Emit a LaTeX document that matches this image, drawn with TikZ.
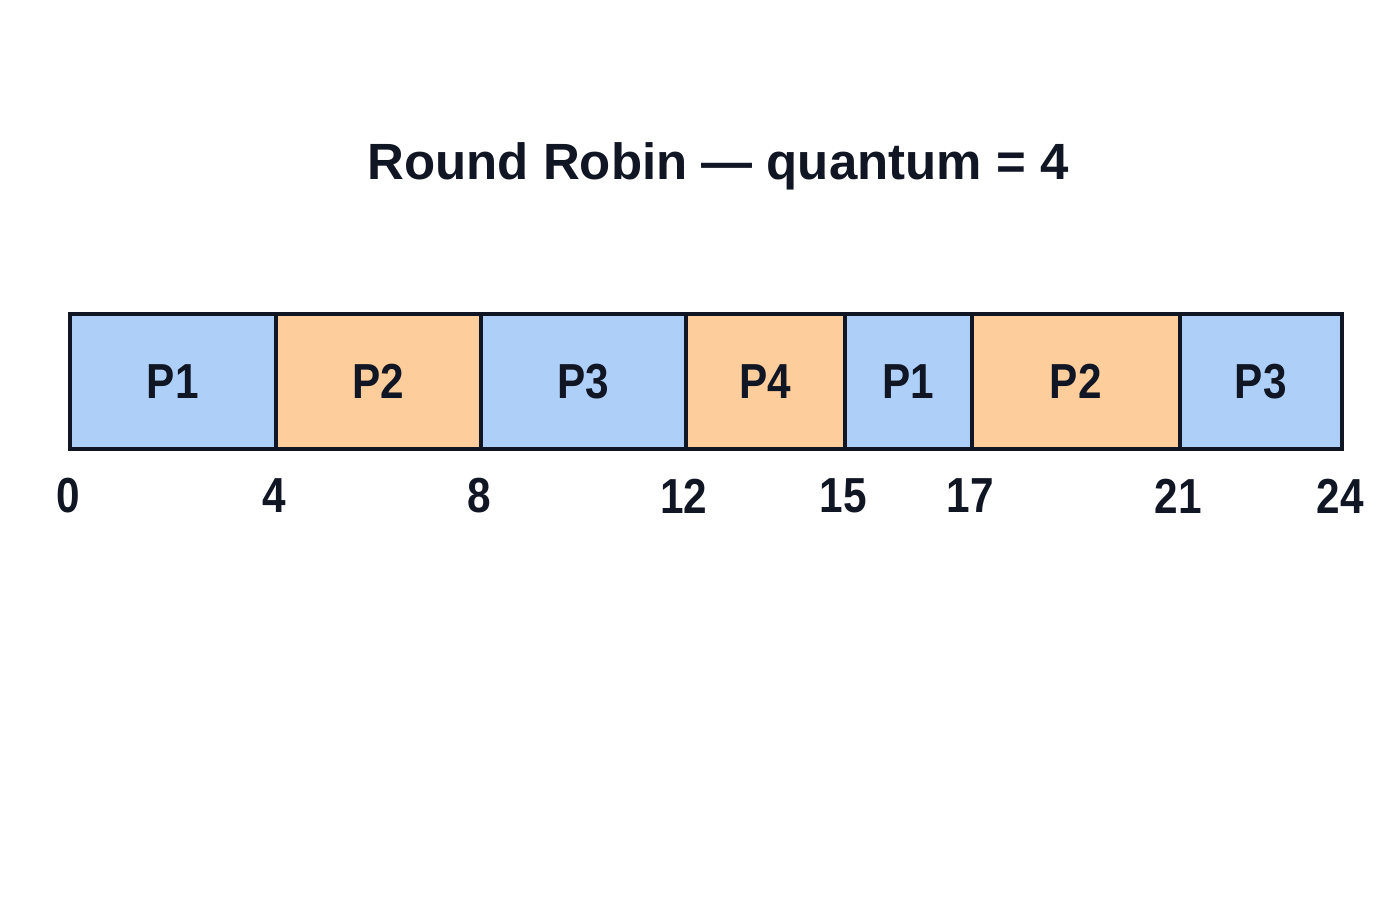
\documentclass[tikz,border=0pt]{standalone}
\usepackage{fontspec}
\setmainfont{Liberation Sans}
\newfontfamily\narrowbold[FakeStretch=0.86]{Liberation Sans Bold}
\usetikzlibrary{positioning}

\definecolor{slotblue}{RGB}{174,208,248}
\definecolor{slotorange}{RGB}{253,205,155}
\definecolor{inkdark}{RGB}{17,22,36}

\tikzset{
    slot/.style={draw=inkdark, line width=1pt, anchor=south west,
        minimum height=1.35cm, inner sep=0pt, text=inkdark,
        font=\narrowbold\fontsize{14}{16}\selectfont},
    tick/.style={text=inkdark, inner sep=0pt,
        font=\narrowbold\fontsize{14}{16}\selectfont},
    title/.style={text=inkdark, anchor=base,
        font=\bfseries\fontsize{14.5}{17}\selectfont}
}

\begin{document}
\begin{tikzpicture}
    \useasboundingbox (-0.68,-4.49) rectangle (13.32,4.51);
    \node[title] (head) at (6.50,2.72) {Round Robin --- quantum = 4};
    % time slices
    \foreach \s/\e/\p/\c [count=\i] in
        {0/2.06/P1/slotblue, 2.06/4.11/P2/slotorange, 4.11/6.16/P3/slotblue,
         6.16/7.75/P4/slotorange, 7.75/9.02/P1/slotblue, 9.02/11.10/P2/slotorange,
         11.10/12.72/P3/slotblue}
        \node[slot, fill=\c, minimum width={(\e-\s)*1cm}] (p\i) at (\s,0) {\p};
    % time marks
    \foreach \x/\t [count=\j] in
        {0/0, 2.06/4, 4.11/8, 6.16/12, 7.75/15, 9.02/17, 11.10/21, 12.72/24}
        \node[tick] (t\j) at (\x,-0.45) {\t};
\end{tikzpicture}
\end{document}
